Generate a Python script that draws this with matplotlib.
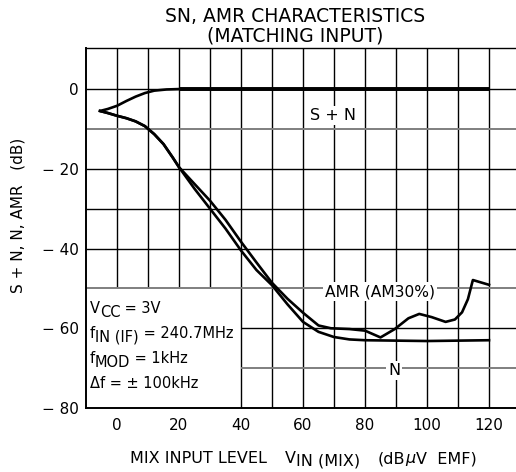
import matplotlib
matplotlib.use("Agg")
import matplotlib.pyplot as plt
from matplotlib.transforms import IdentityTransform
import numpy as np

plt.rcParams['font.family'] = ['DejaVu Sans']

# ---- data ----
sn_x = [-5.5, -3, 0, 3, 6, 9, 12, 16, 20, 120]
sn_y = [-5.5, -5.0, -4.2, -3.0, -1.9, -1.0, -0.4, -0.1, 0.0, 0.0]

amr_x = [-5.5, -3, 0, 3, 6, 9, 12, 15, 18, 20, 25, 30, 35, 40, 45, 50, 55, 60, 65,
         69, 75, 80, 85, 89.6, 94, 97.5, 101.5, 106, 109, 111.3, 113.2, 114.8, 120]
amr_y = [-5.5, -6.0, -6.7, -7.3, -8.1, -9.3, -11.3, -13.8, -17.2, -19.6, -23.8, -28.0,
         -32.8, -38.3, -43.5, -48.6, -52.6, -56.1, -59.3, -60.0, -60.2, -60.6, -62.3,
         -60.2, -57.5, -56.4, -57.2, -58.4, -57.8, -56.0, -52.7, -47.9, -49.1]

n_x = [-5.5, -3, 0, 3, 6, 9, 12, 15, 18, 20, 25, 30, 35, 40, 45, 50, 55, 60, 65,
       70, 75, 80, 90, 100, 110, 120]
n_y = [-5.5, -6.0, -6.7, -7.3, -8.1, -9.3, -11.3, -13.8, -17.2, -19.6, -25.0, -30.0,
       -35.0, -40.5, -45.4, -49.2, -54.0, -58.4, -60.9, -62.2, -62.8, -63.0, -63.1,
       -63.2, -63.1, -63.0]

x_ticks = [0, 20, 40, 60, 80, 100, 120]
y_ticks = [0, -20, -40, -60, -80]
y_tick_labels = ["0", "\u2212 20", "\u2212 40", "\u2212 60", "\u2212 80"]
x_grid = [0, 10, 20, 30, 40, 50, 60, 70, 80, 90, 100, 110, 120]
y_grid_black = [0, -20, -30, -40, -60]
y_grid_gray = [-10, -50, -70]

# condition lines: (main, subscript, rest)
conditions = [("V", "CC", " = 3V"),
              ("f", "IN (IF)", " = 240.7MHz"),
              ("f", "MOD", " = 1kHz"),
              ("\u0394f = \u00b1 100kHz", "", "")]

W, H = 516, 472
fig = plt.figure(figsize=(W / 100, H / 100), dpi=100)
x0, x1 = 86, 516
y0, y1 = 48, 408
ax = fig.add_axes([x0 / W, 1 - y1 / H, (x1 - x0) / W, (y1 - y0) / H])
XMIN, XMAX = -10, (516 - 117) / 3.1
YMIN, YMAX = -80, 10.3
ax.set_xlim(XMIN, XMAX)
ax.set_ylim(YMIN, YMAX)

box_x, box_y = 40, -50  # condition box corner (no grid inside)

# grid
for gx in x_grid:
    lo = box_y if gx < box_x else YMIN
    ax.plot([gx, gx], [lo, YMAX], color='black', lw=1.0, zorder=1, solid_capstyle='butt')
for gy in y_grid_black:
    lo = box_x if gy < box_y else XMIN
    ax.plot([lo, XMAX], [gy, gy], color='black', lw=1.0, zorder=1, solid_capstyle='butt')
for gy in y_grid_gray:
    lo = box_x if gy < box_y else XMIN
    ax.plot([lo, XMAX], [gy, gy], color='#7f7f7f', lw=1.4, zorder=1, solid_capstyle='butt')

# curves
ax.plot(sn_x, sn_y, color='black', lw=1.9, zorder=3, solid_capstyle='butt')
snx = np.array(sn_x); sny = np.array(sn_y)
m = snx >= 20
ax.plot(snx[m], sny[m], color='black', lw=2.8, zorder=3, solid_capstyle='butt')
ax.plot(amr_x, amr_y, color='black', lw=1.9, zorder=3)
ax.plot(n_x, n_y, color='black', lw=1.9, zorder=3)

# labels on curves
bb = dict(facecolor='white', edgecolor='none', pad=1.5)
ax.text(69.8, -6.7, "S + N", ha='center', va='center', fontsize=11.5, bbox=bb, zorder=4)
ax.text(84.8, -50.8, "AMR (AM30%)", ha='center', va='center', fontsize=11.2, bbox=bb, zorder=4)
ax.text(89.4, -70.6, "N", ha='center', va='center', fontsize=11.5, bbox=bb, zorder=4)

# spines
ax.spines['right'].set_visible(False)
ax.spines['left'].set_linewidth(1.4)
ax.spines['bottom'].set_linewidth(1.4)
ax.spines['top'].set_linewidth(1.0)

ax.set_xticks(x_ticks)
ax.set_xticklabels([str(v) for v in x_ticks])
ax.set_yticks(y_ticks)
ax.set_yticklabels(y_tick_labels)
ax.tick_params(axis='both', length=0, labelsize=11)
ax.tick_params(axis='x', pad=7)
ax.tick_params(axis='y', pad=5)

fig.text(295 / W, 1 - 17 / H, "SN, AMR CHARACTERISTICS", ha='center', va='center', fontsize=13.5)
fig.text(295 / W, 1 - 36 / H, "(MATCHING INPUT)", ha='center', va='center', fontsize=13.5)
fig.text(18 / W, 1 - 215 / H, "S + N, N, AMR   (dB)", rotation=90, ha='center', va='center', fontsize=11)

renderer = fig.canvas.get_renderer()

def rich(x_px, base_px, segs):
    """segs: list of (text, dy_px, size, style). Draws left to right on a common baseline."""
    x = x_px
    for txt, dy, size, style in segs:
        if not txt:
            continue
        t = fig.text(x, H - base_px - dy, txt, transform=IdentityTransform(),
                     ha='left', va='baseline', fontsize=size, style=style)
        ext = t.get_window_extent(renderer)
        x = ext.x1
    return x

cond_base = [313, 338, 363, 388]
for (a, s, r), b in zip(conditions, cond_base):
    rich(90, b, [(a, 0, 10.5, 'normal'), (s, 4, 10.5, 'normal'), (r, 0, 10.5, 'normal')])

rich(130, 463, [("MIX INPUT LEVEL", 0, 11.5, 'normal')])
rich(285, 463, [("V", 0, 11.5, 'normal'), ("IN (MIX)", 3, 11.5, 'normal')])
rich(378, 463, [("(dB", 0, 11.5, 'normal'), ("\u03bc", 0, 11.5, 'italic'), ("V  EMF)", 0, 11.5, 'normal')])

fig.savefig("out.png", dpi=100)
